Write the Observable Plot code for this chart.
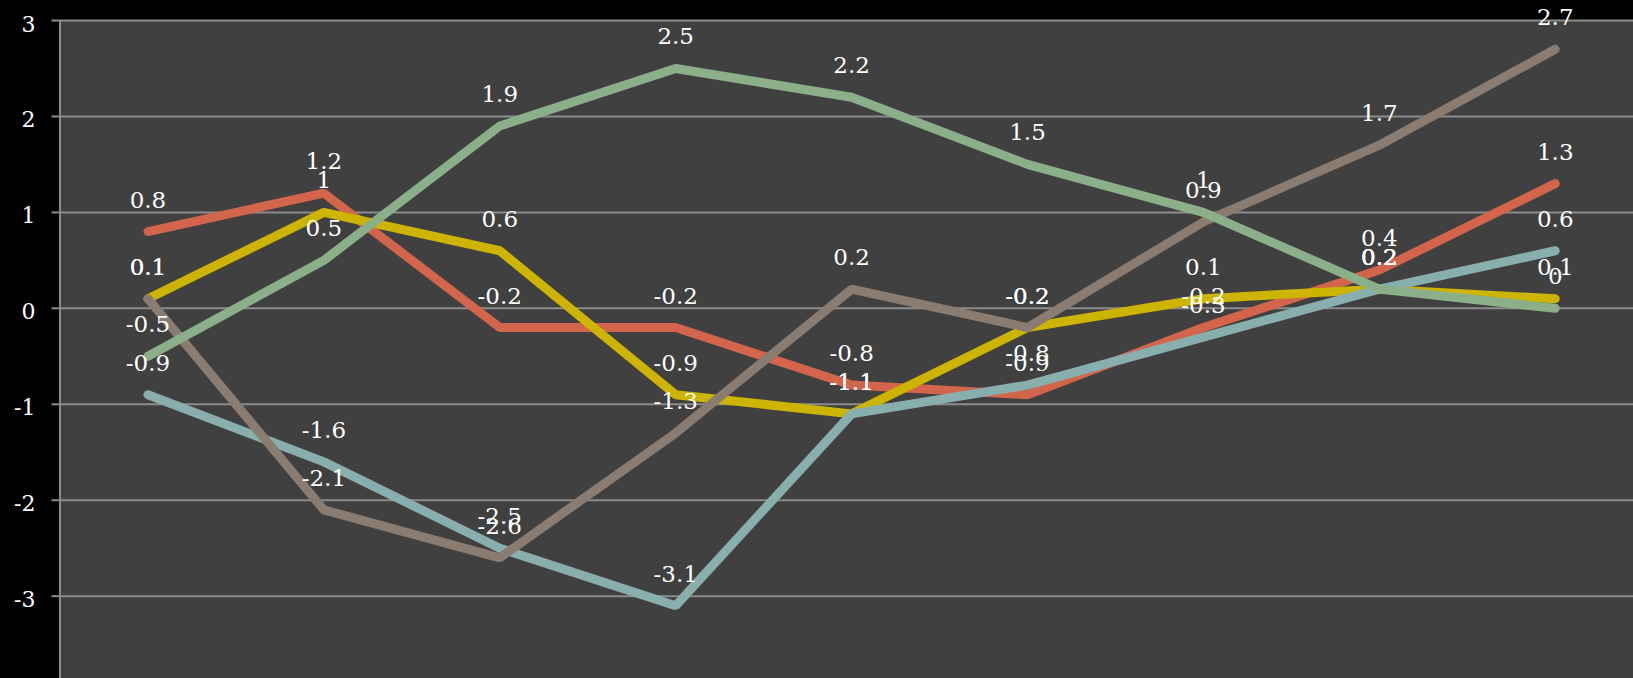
<!DOCTYPE html>
<html>
<head>
<meta charset="utf-8">
<script src="https://cdn.jsdelivr.net/npm/d3@7"></script>
<script src="https://cdn.jsdelivr.net/npm/@observablehq/plot@0.6"></script>
<style>
html, body { margin: 0; padding: 0; background: #000; overflow: hidden; }
#chart svg { display: block; }
</style>
</head>
<body>
<div id="chart"></div>
<script>
// Categories (no visible labels on the x axis)
const categories = [1, 2, 3, 4, 5, 6, 7, 8, 9];

// Series values (drawn bottom to top in this order)
const seriesRed    = [0.8, 1.2, -0.2, -0.2, -0.8, -0.9, -0.2, 0.4, 1.3];
const seriesYellow = [0.1, 1, 0.6, -0.9, -1.1, -0.2, 0.1, 0.2, 0.1];
const seriesTeal   = [-0.9, -1.6, -2.5, -3.1, -1.1, -0.8, -0.3, 0.2, 0.6];
const seriesBrown  = [0.1, -2.1, -2.6, -1.3, 0.2, -0.2, 0.9, 1.7, 2.7];
const seriesGreen  = [-0.5, 0.5, 1.9, 2.5, 2.2, 1.5, 1, 0.2, 0];

const seriesNames = ["Red", "Yellow", "Teal", "Brown", "Green"];
const seriesColors = ["#d2654b", "#ccb400", "#88aeae", "#8b7c71", "#8aaf89"];

// Y axis tick labels
const yTicks = [-3, -2, -1, 0, 1, 2, 3];

const allSeries = [seriesRed, seriesYellow, seriesTeal, seriesBrown, seriesGreen];
const rows = [];
allSeries.forEach((vals, s) => {
  categories.forEach((c, i) => rows.push({cat: c, series: seriesNames[s], value: vals[i]}));
});

const font = "'DejaVu Serif', 'Liberation Serif', serif";
const gridColor = "#8c8c8c";

const lineMarks = seriesNames.map((name, s) =>
  Plot.line(rows.filter(d => d.series === name), {
    x: "cat", y: "value",
    stroke: seriesColors[s], strokeWidth: 9,
    strokeLinecap: "round", strokeLinejoin: "miter"
  })
);

const chart = Plot.plot({
  width: 1633,
  height: 678,
  marginLeft: 59.5,
  marginRight: 0,
  marginTop: 20,
  marginBottom: 0,
  style: {background: "#000", color: "#fff", fontFamily: font, fontSize: "22px"},
  x: {type: "linear", domain: [0.5, 9.445], axis: null, label: null},
  y: {domain: [-3.858, 3], axis: null, label: null},
  marks: [
    Plot.frame({fill: "#404040", stroke: null}),
    Plot.gridY(yTicks, {stroke: gridColor, strokeOpacity: 1, strokeWidth: 2}),
    Plot.ruleX([0.5], {stroke: gridColor, strokeWidth: 2}),
    Plot.axisY(yTicks, {tickSize: 8, tickFormat: () => "", label: null, stroke: gridColor, strokeWidth: 2}),
    Plot.axisY(yTicks, {tickSize: 0, tickPadding: 24.5, tickFormat: d => String(d), label: null,
      fill: "#fff", fontSize: 22, fontFamily: font, dy: 4}),
    ...lineMarks,
    Plot.text(rows, {
      x: "cat", y: "value", text: d => String(d.value),
      dy: -24, lineAnchor: "bottom", textAnchor: "middle",
      fill: "#fff", fontSize: 23, fontFamily: font
    })
  ]
});

document.getElementById("chart").appendChild(chart);
</script>
</body>
</html>
